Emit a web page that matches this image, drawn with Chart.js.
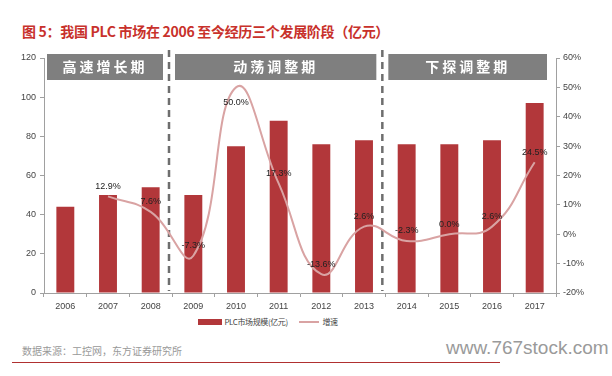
<!DOCTYPE html>
<html>
<head>
<meta charset="utf-8">
<script src="https://cdn.jsdelivr.net/npm/chart.js@4"></script>
<style>
  body { margin: 0; background: #fff; font-family: "Noto Sans CJK SC", "Liberation Sans", sans-serif; }
  #wrap { position: relative; width: 612px; height: 376px; overflow: hidden; }
  #title { position: absolute; left: 22px; top: 21px; font-size: 14px; font-weight: bold; color: #c8312b; white-space: nowrap; letter-spacing: -0.3px; }
  #box { position: absolute; left: 0; top: 40px; width: 612px; height: 275px; }
  #legend { position: absolute; top: 315px; left: 198px; font-size: 8px; color: #444; white-space: nowrap; letter-spacing: -0.4px; }
  #legend span { display: inline-block; vertical-align: middle; }
  #source { position: absolute; left: 22px; top: 343px; font-size: 10px; color: #999; }
  #site { position: absolute; left: 446px; top: 337px; font-family: "Liberation Sans", sans-serif; font-size: 19px; color: #9a9a9a; }
  #rule { position: absolute; left: 12px; top: 362px; width: 488px; height: 1px; background: #b03030; }
</style>
</head>
<body>
<div id="wrap">
  <div id="title">图 5：我国 PLC 市场在 2006 至今经历三个发展阶段（亿元）</div>
  <div id="box"><canvas id="c"></canvas></div>
  <div id="legend">
    <span style="width:24px;height:6px;background:#b2373a"></span>
    <span style="margin-left:1px">PLC市场规模(亿元)</span>
    <span style="width:20px;height:2px;background:#d9a3a3;margin-left:10px"></span>
    <span style="margin-left:2px">增速</span>
  </div>
  <div id="source">数据来源：工控网，东方证券研究所</div>
  <div id="site">www.767stock.com</div>
  <div id="rule"></div>
</div>
<script>
// data
const years = ['2006', '2007', '2008', '2009', '2010', '2011', '2012', '2013', '2014', '2015', '2016', '2017'];
const marketSize = [44, 50, 54, 50, 75, 88, 76, 78, 76, 76, 78, 97];
const growth = [null, 12.9, 7.6, -7.3, 50.0, 17.3, -13.6, 2.6, -2.3, 0.0, 2.6, 24.5];
const leftTicks = [0, 20, 40, 60, 80, 100, 120];
const rightTicks = [-20, -10, 0, 10, 20, 30, 40, 50, 60];
// phases: [title, first year index, last year index]
const phases = [['高速增长期', 0, 2], ['动荡调整期', 3, 7], ['下探调整期', 8, 11]];

const barColor = '#b2373a';
const lineColor = '#d9a3a3';
const axisColor = '#a0a0a0';

// gray headers + dashed separators
const phasePlugin = {
  id: 'phases',
  beforeDatasetsDraw(chart) {
    const ctx = chart.ctx, x = chart.scales.x, area = chart.chartArea;
    const step = x.getPixelForValue(1) - x.getPixelForValue(0);
    ctx.save();
    phases.forEach((p, i) => {
      const x0 = x.getPixelForValue(p[1]) - step / 2;
      const x1 = x.getPixelForValue(p[2]) + step / 2;
      ctx.fillStyle = '#7f7f7f';
      ctx.fillRect(x0 + 3, area.top - 4, x1 - x0 - 12, 26);
      ctx.fillStyle = '#fff';
      ctx.font = 'bold 14px "Noto Sans CJK SC"';
      ctx.textAlign = 'center';
      ctx.textBaseline = 'middle';
      ctx.letterSpacing = '3px';
      ctx.fillText(p[0], (x0 + x1) / 2 - 3, area.top + 9);
      if (i > 0) {
        ctx.strokeStyle = '#6e6e6e';
        ctx.lineWidth = 2.5;
        ctx.setLineDash([7, 5]);
        ctx.beginPath();
        ctx.moveTo(x0 - 3, area.top - 8);
        ctx.lineTo(x0 - 3, area.bottom - 2);
        ctx.stroke();
        ctx.setLineDash([]);
      }
    });
    ctx.restore();
  }
};

// percentage labels on the growth line
const labelPlugin = {
  id: 'growthLabels',
  afterDatasetsDraw(chart) {
    const ctx = chart.ctx, meta = chart.getDatasetMeta(1);
    ctx.save();
    ctx.font = '9px "Liberation Sans"';
    ctx.fillStyle = '#222';
    ctx.textAlign = 'center';
    ctx.textBaseline = 'middle';
    meta.data.forEach((pt, i) => {
      if (growth[i] === null) return;
      let y = pt.y - 10;
      if (y < chart.chartArea.top + 26) y = pt.y + 15;
      ctx.fillText(growth[i].toFixed(1) + '%', pt.x, y);
    });
    ctx.restore();
  }
};

new Chart(document.getElementById('c'), {
  data: {
    labels: years,
    datasets: [
      {
        type: 'bar',
        label: 'PLC市场规模(亿元)',
        data: marketSize,
        backgroundColor: barColor,
        yAxisID: 'y',
        barPercentage: 0.42,
        categoryPercentage: 1,
        order: 2
      },
      {
        type: 'line',
        label: '增速',
        data: growth,
        borderColor: lineColor,
        borderWidth: 2,
        pointRadius: 0,
        tension: 0.45,
        yAxisID: 'y1',
        order: 1
      }
    ]
  },
  options: {
    responsive: true,
    maintainAspectRatio: false,
    animation: false,
    layout: { padding: { top: 18, left: 0, right: 0, bottom: 0 } },
    plugins: { legend: { display: false }, tooltip: { enabled: false } },
    scales: {
      x: {
        grid: { drawOnChartArea: false, tickLength: 4, color: axisColor },
        border: { color: axisColor },
        ticks: { color: '#444', font: { size: 9, family: 'Liberation Sans' }, padding: 4 },
        afterFit: s => { s.height = 22; }
      },
      y: {
        position: 'left',
        min: 0, max: 120,
        afterBuildTicks: s => { s.ticks = leftTicks.map(v => ({ value: v })); },
        grid: { drawOnChartArea: false, tickLength: 4, color: axisColor },
        border: { color: axisColor },
        ticks: { color: '#444', font: { size: 9, family: 'Liberation Sans' }, padding: 4 },
        afterFit: s => { s.width = 44; }
      },
      y1: {
        position: 'right',
        min: -20, max: 60,
        afterBuildTicks: s => { s.ticks = rightTicks.map(v => ({ value: v })); },
        grid: { drawOnChartArea: false, tickLength: 4, color: axisColor },
        border: { color: axisColor },
        ticks: { color: '#444', font: { size: 9, family: 'Liberation Sans' }, padding: 3, callback: v => v + '%' },
        afterFit: s => { s.width = 56; }
      }
    }
  },
  plugins: [phasePlugin, labelPlugin]
});
</script>
</body>
</html>
